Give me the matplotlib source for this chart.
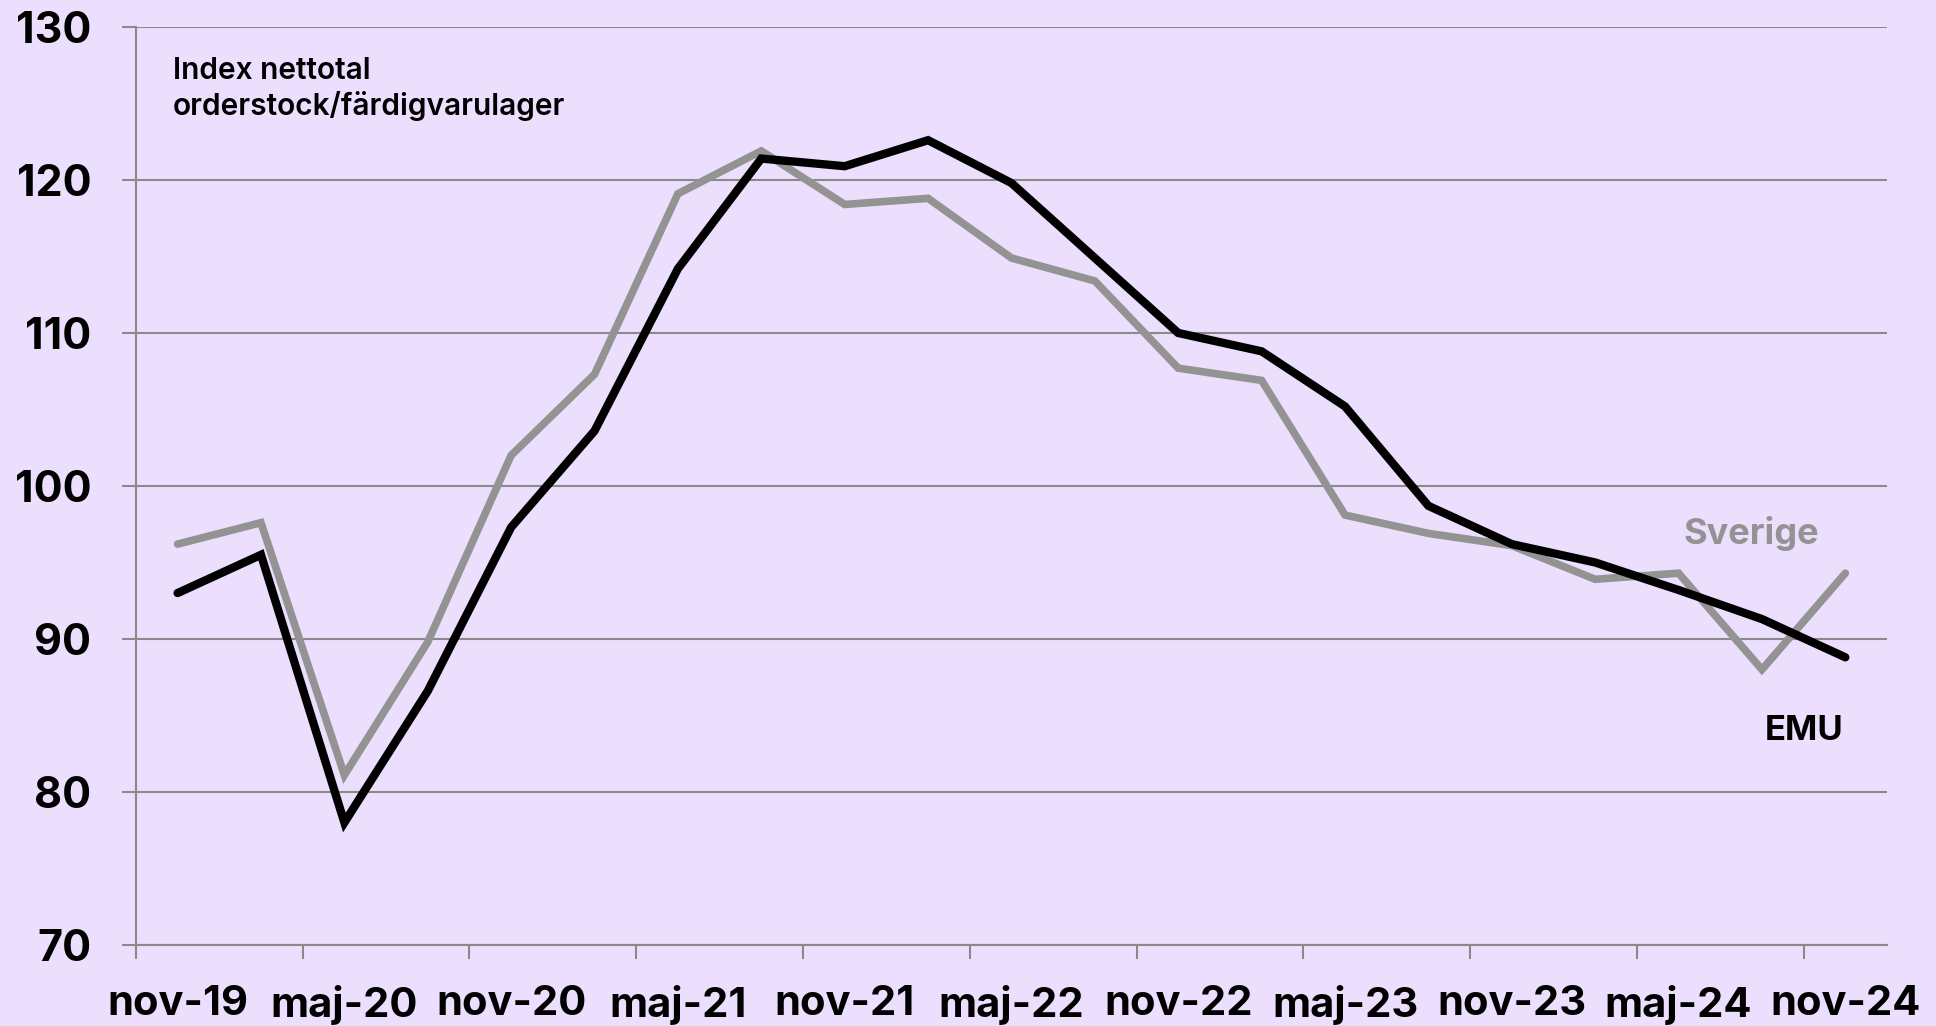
import numpy as np
import matplotlib.pyplot as plt

labels = ["nov-19", "maj-20", "nov-20", "maj-21", "nov-21", "maj-22",
          "nov-22", "maj-23", "nov-23", "maj-24", "nov-24"]

# quarterly values, nov-19 .. nov-24
emu = [93.0, 95.5, 78.0, 86.6, 97.3, 103.6, 114.2, 121.4, 120.9, 122.6, 119.8,
       114.9, 110.0, 108.8, 105.2, 98.7, 96.2, 95.0, 93.2, 91.3, 88.8]
sverige = [96.2, 97.6, 81.1, 89.8, 102.0, 107.3, 119.1, 121.9, 118.4, 118.8, 114.9,
           113.4, 107.7, 106.9, 98.1, 96.9, 96.1, 93.9, 94.3, 88.0, 94.3]

bg = "#ecdffe"
plt.rcParams['font.family'] = ['Inter', 'DejaVu Sans']

fig = plt.figure(figsize=(19.36, 10.26), dpi=100, facecolor=bg)
ax = fig.add_axes([0.0702, 0.079, 0.9045, 0.8947], facecolor=bg)

x = np.arange(len(emu))
ax.plot(x, sverige, color="#939393", lw=5.5, solid_joinstyle="miter", solid_capstyle="round", zorder=3)
ax.plot(x, emu, color="#000000", lw=6, solid_joinstyle="miter", solid_capstyle="round", zorder=4)

ax.set_xlim(-0.5, len(emu) - 0.5)
ax.set_ylim(70, 130)
ax.set_yticks(np.arange(70, 131, 10))
ax.yaxis.grid(True, color="#8a8a8a", lw=1.5)
ax.set_axisbelow(True)

# tick marks between categories, labels on every second category
ax.set_xticks(np.arange(-0.5, len(emu) - 1, 2))
ax.set_xticklabels([])
ax.set_xticks(np.arange(0, len(emu), 2), minor=True)
ax.set_xticklabels(labels, minor=True)
ax.tick_params(axis="x", which="minor", length=0, pad=29)
ax.tick_params(axis="x", which="major", length=10, width=1.5, color="#8a8a8a")
ax.tick_params(axis="y", length=10, width=1.5, color="#8a8a8a", pad=22)
for t in ax.get_xticklabels(minor=True):
    t.set_fontsize(30)
    t.set_fontweight("bold")
for t in ax.get_yticklabels():
    t.set_fontsize(31)
    t.set_fontweight("bold")

for s in ["top", "right"]:
    ax.spines[s].set_visible(False)
for s in ["left", "bottom"]:
    ax.spines[s].set_color("#8a8a8a")
    ax.spines[s].set_linewidth(1.5)

ax.text(0.021, 0.967, "Index nettotal\norderstock/färdigvarulager", transform=ax.transAxes,
        fontsize=21.5, fontweight="semibold", va="top", ha="left", linespacing=1.25)
ax.text(18.87, 96.9, "Sverige", color="#939393", fontsize=26, fontweight="bold", ha="center", va="center")
ax.text(19.5, 84.0, "EMU", color="#000000", fontsize=25, fontweight="bold", ha="center", va="center")

fig.savefig("out.png", dpi=100, facecolor=bg)
